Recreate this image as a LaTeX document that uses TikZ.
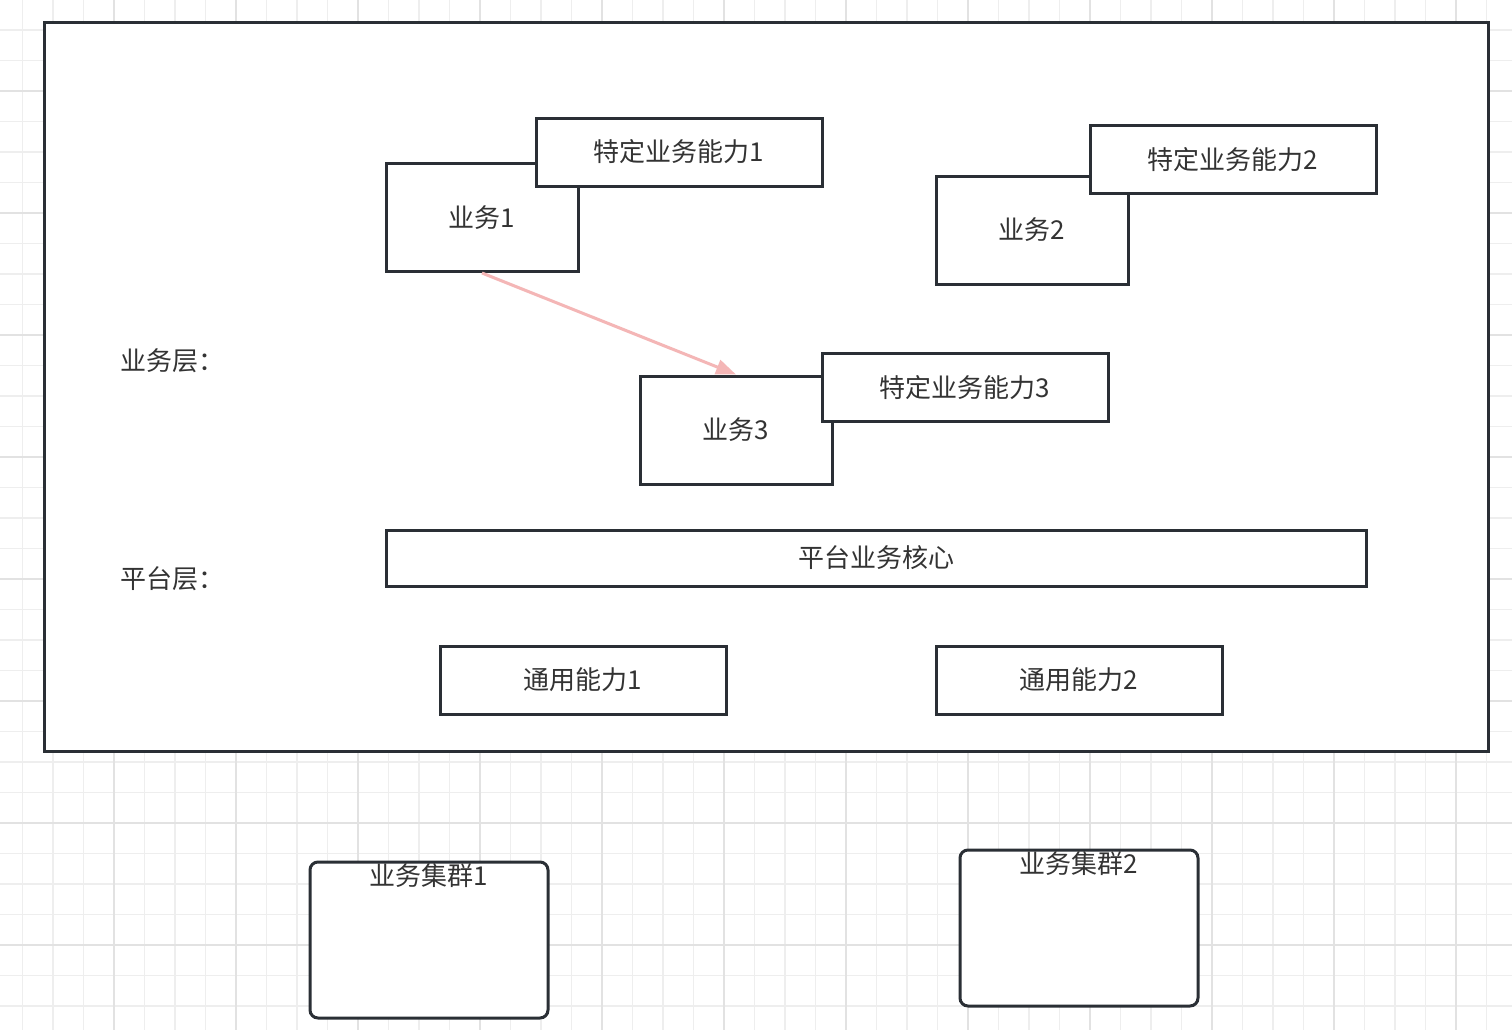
\documentclass[tikz,border=0pt]{standalone}
\usepackage{fontspec}
\newfontfamily\cjk{Noto Sans CJK SC}
\usetikzlibrary{arrows.meta}
\definecolor{linecol}{RGB}{42,47,53}
\definecolor{textcol}{RGB}{51,51,51}
\definecolor{gridminor}{RGB}{238,238,238}
\definecolor{gridmajor}{RGB}{226,226,226}
\definecolor{arrowcol}{RGB}{244,182,182}
\begin{document}
\begin{tikzpicture}[x=0.5pt, y=-0.5pt,
  box/.style={draw=linecol, line width=1.5pt, fill=white, inner sep=0pt, text=textcol,
    font=\cjk\fontsize{13}{15}\selectfont},
  svcbox/.style={box, minimum width=96pt, minimum height=54pt},
  capbox/.style={box, minimum width=143pt, minimum height=34pt},
  clusterbox/.style={box, rounded corners=4pt, minimum width=119pt, minimum height=78pt},
  layer/.style={anchor=west, inner sep=0pt, text=textcol, font=\cjk\fontsize{13}{15}\selectfont}]
  \useasboundingbox (0,0) rectangle (1512,1030);
  \fill[white] (0,0) rectangle (1512,1030);
  % grid
  \foreach \k in {-4,...,46} {
    \draw[gridminor, line width=0.75pt] ({114+30.5*\k},0) -- ({114+30.5*\k},1030);
  }
  \foreach \k in {-3,...,31} {
    \draw[gridminor, line width=0.75pt] (0,{91+30.5*\k}) -- (1512,{91+30.5*\k});
  }
  \foreach \k in {-1,...,12} {
    \draw[gridmajor, line width=1pt] ({114+122*\k},0) -- ({114+122*\k},1030);
  }
  \foreach \k in {-1,...,8} {
    \draw[gridmajor, line width=1pt] (0,{91+122*\k}) -- (1512,{91+122*\k});
  }
  % frame
  \node[box, minimum width=722pt, minimum height=364.5pt] (frame) at (766,386.5) {};
  \node[layer] (biz) at (120,361) {业务层：};
  \node[layer] (plat) at (120,579) {平台层：};
  % business services
  \node[svcbox] (b1) at (482,217.5) {业务1};
  \node[capbox] (c1) at (679,152) {特定业务能力1};
  \node[svcbox] (b2) at (1032,230) {业务2};
  \node[capbox] (c2) at (1233,159.5) {特定业务能力2};
  \node[svcbox] (b3) at (736,430) {业务3};
  \node[capbox] (c3) at (965,387.5) {特定业务能力3};
  \draw[arrowcol, line width=1.5pt, -{Triangle[length=10pt, width=7.5pt]}] (b1.south) -- (b3.north);
  % platform
  \node[box, minimum width=490pt, minimum height=28pt] (core) at (876,558) {平台业务核心};
  \node[capbox] (g1) at (583,680) {通用能力1};
  \node[capbox] (g2) at (1079,680) {通用能力2};
  % clusters
  \node[clusterbox, label={[anchor=center, yshift=-7.5pt, inner sep=0pt, text=textcol,
    font=\cjk\fontsize{13}{15}\selectfont]north:业务集群1}] (k1) at (429,940) {};
  \node[clusterbox, label={[anchor=center, yshift=-7.5pt, inner sep=0pt, text=textcol,
    font=\cjk\fontsize{13}{15}\selectfont]north:业务集群2}] (k2) at (1079,928) {};
\end{tikzpicture}
\end{document}
